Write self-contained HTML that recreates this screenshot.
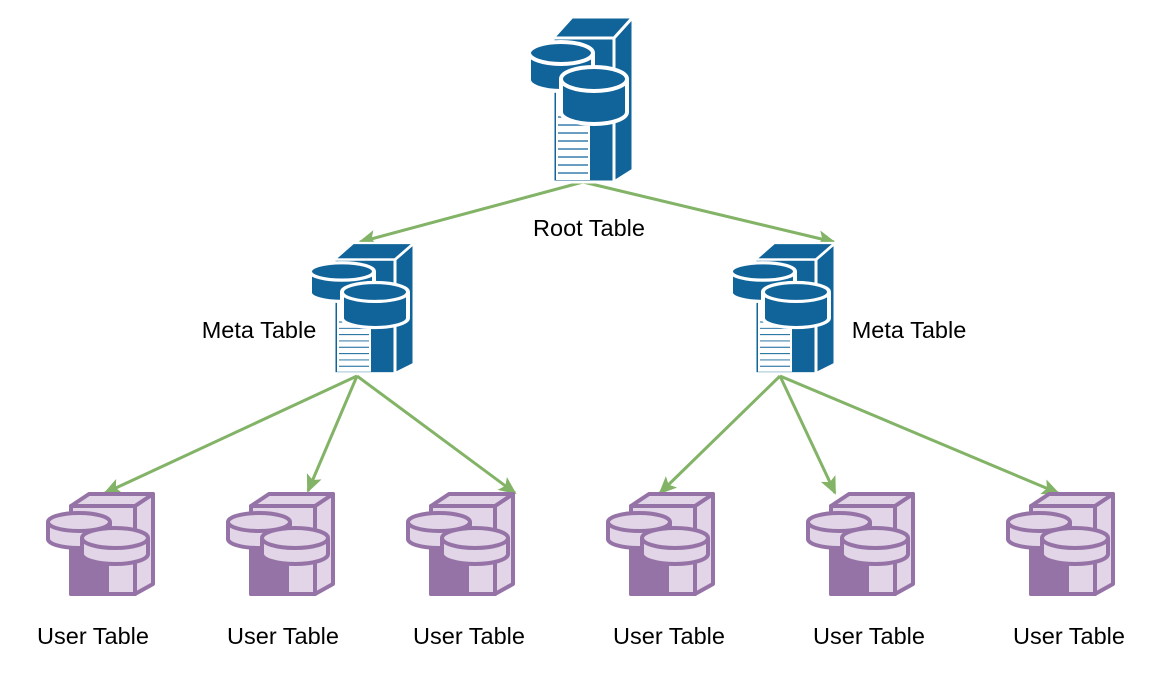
<!DOCTYPE html>
<html><head><style>
html,body{margin:0;padding:0;background:#fff;}
svg{display:block;}
text{font-family:"Liberation Sans",Helvetica,Arial,sans-serif;font-size:23.5px;fill:#000;}
</style></head><body>
<svg width="1170" height="688" viewBox="0 0 1170 688" xmlns="http://www.w3.org/2000/svg">
<defs>
<g id="srv">
  <polygon points="86,21 105,0 105,153 86,165" fill="#10649a" stroke="#fff" stroke-width="3"/>
  <polygon points="25,21 44,0 105,0 86,21" fill="#10649a" stroke="#fff" stroke-width="3"/>
  <rect x="25" y="21" width="61" height="144" fill="#10649a" stroke="#fff" stroke-width="3"/>
  <rect x="28" y="75" width="34" height="88" fill="#fff"/>
  <g stroke="#10649a" stroke-width="1.2">
    <line x1="30" y1="100" x2="60" y2="100"/><line x1="30" y1="108" x2="60" y2="108"/>
    <line x1="30" y1="116" x2="60" y2="116"/><line x1="30" y1="124" x2="60" y2="124"/>
    <line x1="30" y1="132" x2="60" y2="132"/><line x1="30" y1="140" x2="60" y2="140"/>
    <line x1="30" y1="148" x2="60" y2="148"/><line x1="30" y1="156" x2="60" y2="156"/>
  </g>
  <path d="M1,36 v27 a32,11 0 0 0 64,0 v-27" fill="#10649a" stroke="#fff" stroke-width="4"/>
  <ellipse cx="33" cy="36" rx="32" ry="11" fill="#10649a" stroke="#fff" stroke-width="4"/>
  <path d="M33,62 v33 a33,12 0 0 0 66,0 v-33" fill="#10649a" stroke="#fff" stroke-width="4"/>
  <ellipse cx="66" cy="62" rx="33" ry="12" fill="#10649a" stroke="#fff" stroke-width="4"/>
</g>
<g id="usr" stroke="#9673a6" stroke-width="4" stroke-linejoin="round">
  <polygon points="88,12 106,0 106,90 88,100" fill="#e1d5e7"/>
  <polygon points="24,12 42,0 106,0 88,12" fill="#e1d5e7"/>
  <rect x="24" y="12" width="64" height="88" fill="#e1d5e7"/>
  <rect x="24" y="55" width="36" height="45" fill="#9673a6"/>
  <path d="M1,28 v17 a31,9 0 0 0 62,0 v-17" fill="#e1d5e7"/>
  <ellipse cx="32" cy="28" rx="31" ry="9" fill="#e1d5e7"/>
  <path d="M35,44 v16 a33,10 0 0 0 66,0 v-16" fill="#e1d5e7"/>
  <ellipse cx="68" cy="44" rx="33" ry="10" fill="#e1d5e7"/>
</g>
<marker id="ar" markerWidth="18" markerHeight="16" refX="16" refY="8" orient="auto" markerUnits="userSpaceOnUse" viewBox="0 0 18 16">
  <path d="M0,0 L18,8 L0,16 L4,8 z" fill="#82b366"/>
</marker>
</defs>
<g stroke="#82b366" stroke-width="3" fill="none">
  <line x1="583" y1="182" x2="360" y2="242" marker-end="url(#ar)"/>
  <line x1="583" y1="182" x2="834" y2="242" marker-end="url(#ar)"/>
  <line x1="357" y1="376" x2="105" y2="493" marker-end="url(#ar)"/>
  <line x1="357" y1="376" x2="308" y2="491" marker-end="url(#ar)"/>
  <line x1="357" y1="376" x2="515" y2="493" marker-end="url(#ar)"/>
  <line x1="780" y1="376" x2="660" y2="493" marker-end="url(#ar)"/>
  <line x1="780" y1="376" x2="835" y2="493" marker-end="url(#ar)"/>
  <line x1="780" y1="376" x2="1058" y2="493" marker-end="url(#ar)"/>
</g>
<use href="#srv" transform="translate(528,17)"/>
<use href="#srv" transform="translate(309,243) scale(1,0.79)"/>
<use href="#srv" transform="translate(730,243) scale(1,0.79)"/>
<use href="#usr" transform="translate(47,494)"/>
<use href="#usr" transform="translate(227,494)"/>
<use href="#usr" transform="translate(407,494)"/>
<use href="#usr" transform="translate(607,494)"/>
<use href="#usr" transform="translate(807,494)"/>
<use href="#usr" transform="translate(1007,494)"/>
<text x="589" y="236" text-anchor="middle">Root Table</text>
<text x="259" y="338" text-anchor="middle">Meta Table</text>
<text x="909" y="338" text-anchor="middle">Meta Table</text>
<text x="93" y="644" text-anchor="middle">User Table</text>
<text x="283" y="644" text-anchor="middle">User Table</text>
<text x="469" y="644" text-anchor="middle">User Table</text>
<text x="669" y="644" text-anchor="middle">User Table</text>
<text x="869" y="644" text-anchor="middle">User Table</text>
<text x="1069" y="644" text-anchor="middle">User Table</text>
</svg>
</body></html>
